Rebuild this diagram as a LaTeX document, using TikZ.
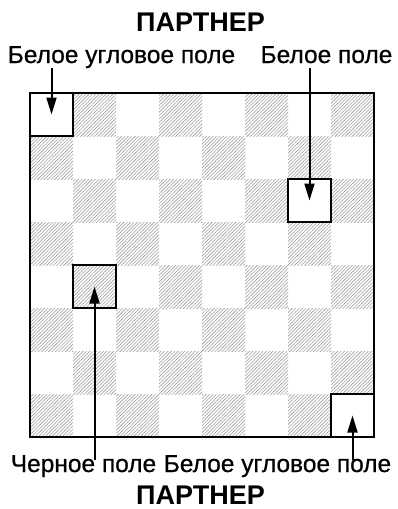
\documentclass[tikz,border=0pt]{standalone}
\usepackage{fontspec}
\setmainfont{Liberation Sans}
\newfontfamily\labelfont[FakeBold=0.6]{Liberation Sans}
\usetikzlibrary{arrows.meta,patterns.meta}
\tikzset{
  hatched/.style={pattern={Lines[angle=45,distance=2.4pt,line width=0.6pt]}, pattern color=gray!75},
  marked/.style={draw, line width=2.8pt, minimum size=43pt, inner sep=0pt},
  pointer/.style={-{Triangle[width=10pt,length=17pt]}, line width=2pt},
  caption/.style={font=\labelfont\fontsize{24.5}{29}\selectfont, inner sep=0pt, anchor=base},
  heading/.style={font=\bfseries\fontsize{27}{31}\selectfont, inner sep=0pt, anchor=base}
}
\begin{document}
\begin{tikzpicture}[x=1pt, y=-1pt]
    \useasboundingbox (0,0) rectangle (397,509);
    % board 8x8, square 43pt, top left corner at (30,93)
    \foreach \r in {0,...,7}
      \foreach \c in {0,...,7} {
        \pgfmathparse{int(mod(\r+\c,2))}
        \ifnum\pgfmathresult=1
          \fill[hatched] (30+43*\c,93+43*\r) rectangle ++(43,43);
        \fi
      }
    \draw[line width=1.8pt] (30,93) rectangle (374,437);
    \node[marked] (corner1) at (51.5,114.5) {};
    \node[marked] (wsq) at (309.5,200.5) {};
    \node[marked] (bsq) at (94.5,286.5) {};
    \node[marked] (corner2) at (352.5,415.5) {};
    % captions
    \node[heading] (topname) at (200.5,31) {ПАРТНЕР};
    \node[caption] (cornerlbl1) at (121.5,63) {Белое угловое поле};
    \node[caption] (whitelbl) at (326.5,63) {Белое поле};
    \node[caption] (blacklbl) at (83.5,472) {Черное поле};
    \node[caption] (cornerlbl2) at (277.5,472) {Белое угловое поле};
    \node[heading] (botname) at (200.5,504) {ПАРТНЕР};
    % pointers
    \draw[pointer] (cornerlbl1.south -| corner1) -- (corner1.center);
    \draw[pointer, shorten <=4.5pt] (whitelbl.south -| wsq) -- (wsq.center);
    \draw[pointer, shorten <=-5pt] (blacklbl.north -| bsq) -- (bsq.center);
    \draw[pointer, shorten <=-5pt] (cornerlbl2.north -| corner2) -- (corner2.center);
\end{tikzpicture}
\end{document}
